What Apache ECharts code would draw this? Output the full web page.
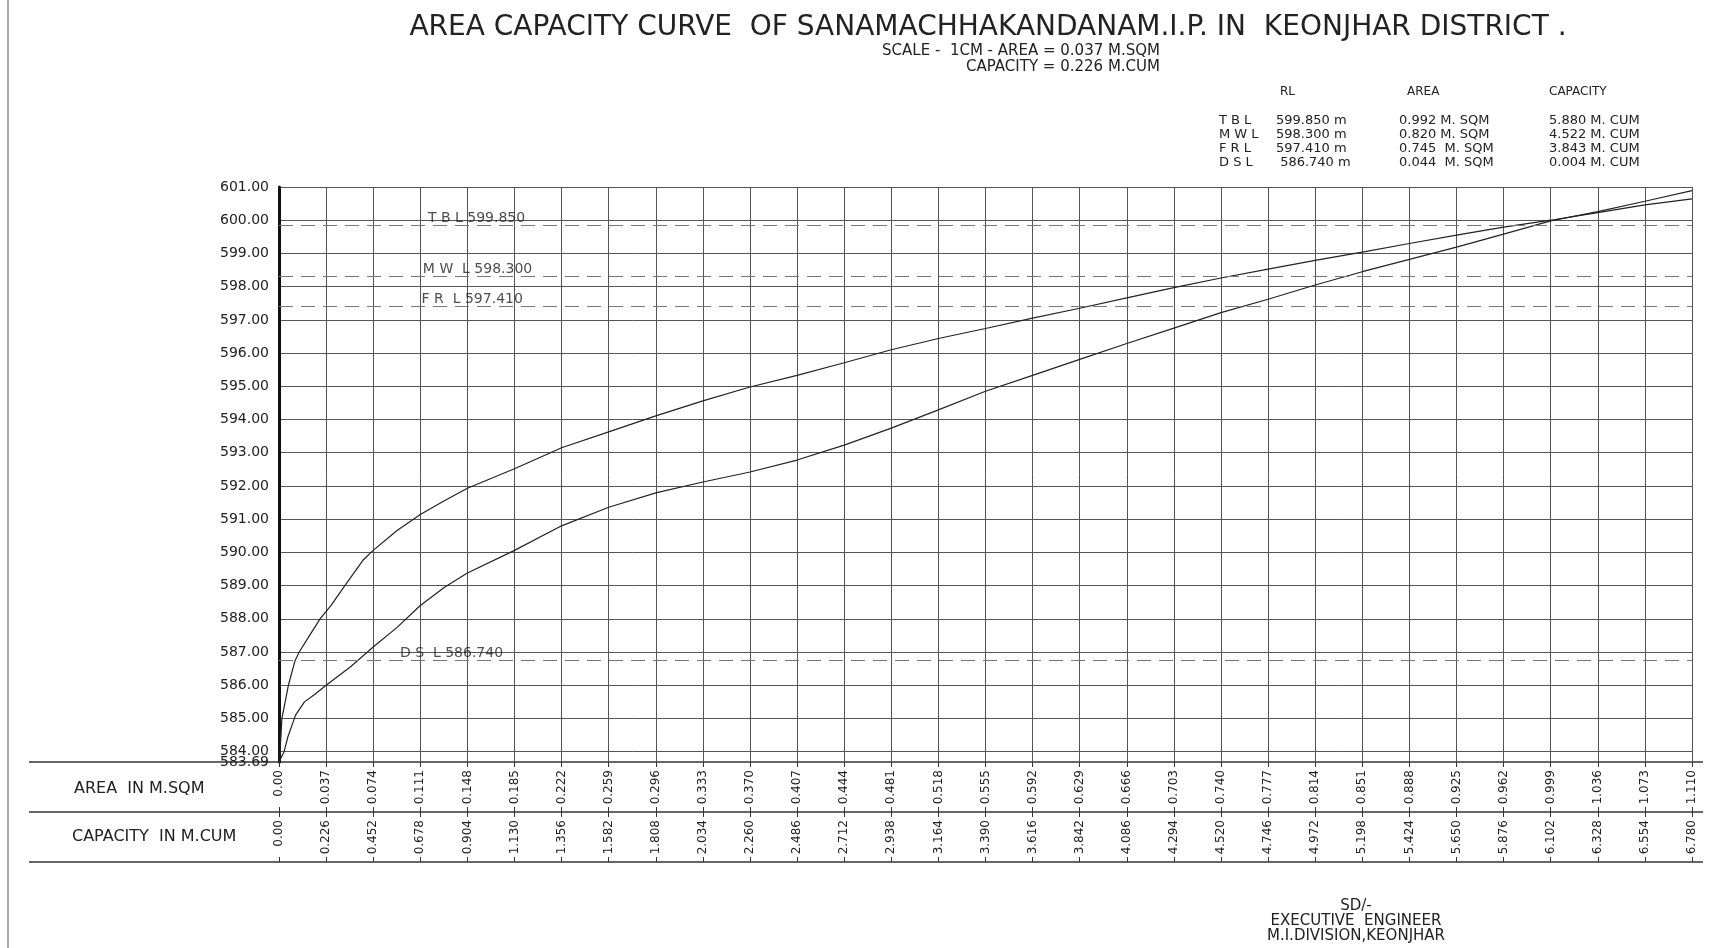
<!DOCTYPE html>
<html>
<head>
<meta charset="utf-8">
<title>Area Capacity Curve</title>
<script src="https://cdn.jsdelivr.net/npm/echarts@6/dist/echarts.min.js"></script>
<style>
  html, body { margin: 0; padding: 0; background: #fff; }
  #main { width: 1713px; height: 948px; }
</style>
</head>
<body>
<div id="main"></div>
<script>
// values
var areaMsqm = [0, 0.004, 0.007, 0.013, 0.020, 0.028, 0.037, 0.056, 0.074, 0.093, 0.111, 0.130, 0.148,
  0.185, 0.222, 0.259, 0.296, 0.333, 0.370, 0.407, 0.444, 0.481, 0.518, 0.555, 0.592, 0.629, 0.666,
  0.703, 0.740, 0.777, 0.814, 0.851, 0.888, 0.925, 0.962, 0.999, 1.036, 1.073, 1.110];
var areaRL = [583.69, 584.00, 584.45, 585.10, 585.50, 585.72, 586.00, 586.55, 587.15, 587.75, 588.40, 588.95, 589.38,
  590.06, 590.80, 591.36, 591.79, 592.12, 592.42, 592.78, 593.23, 593.74, 594.29, 594.85, 595.33, 595.81, 596.29,
  596.75, 597.22, 597.62, 598.05, 598.45, 598.82, 599.19, 599.58, 599.98, 600.26, 600.57, 600.89];

var capMcum = [0, 0.005, 0.014, 0.045, 0.077, 0.097, 0.147, 0.197, 0.249, 0.316, 0.405, 0.452, 0.565, 0.678, 0.791, 0.904,
  1.130, 1.356, 1.582, 1.808, 2.034, 2.260, 2.486, 2.712, 2.938, 3.164, 3.390, 3.616, 3.842, 4.068,
  4.294, 4.520, 4.746, 4.972, 5.198, 5.424, 5.650, 5.876, 6.102, 6.328, 6.554, 6.780];
var capRL = [583.69, 584.00, 585.00, 586.00, 586.74, 587.00, 587.50, 588.00, 588.40, 589.00, 589.78, 590.06, 590.65, 591.14, 591.55, 591.93,
  592.52, 593.15, 593.63, 594.11, 594.56, 594.98, 595.33, 595.71, 596.10, 596.44, 596.74, 597.05, 597.35, 597.66,
  597.97, 598.26, 598.53, 598.79, 599.04, 599.30, 599.55, 599.79, 600.00, 600.23, 600.46, 600.64];

var rlBottom = 583.69, rlTop = 601;
var rlTicks = [584, 585, 586, 587, 588, 589, 590, 591, 592, 593, 594, 595, 596, 597, 598, 599, 600, 601];
var areaStep = 0.037, capStep = 0.226;
var areaTickLabels = ['0.00', '0.037', '0.074', '0.111', '0.148', '0.185', '0.222', '0.259', '0.296', '0.333', '0.370',
  '0.407', '0.444', '0.481', '0.518', '0.555', '0.592', '0.629', '0.666', '0.703', '0.740', '0.777', '0.814',
  '0.851', '0.888', '0.925', '0.962', '0.999', '1.036', '1.073', '1.110'];
var capTickLabels = ['0.00', '0.226', '0.452', '0.678', '0.904', '1.130', '1.356', '1.582', '1.808', '2.034', '2.260',
  '2.486', '2.712', '2.938', '3.164', '3.390', '3.616', '3.842', '4.086', '4.294', '4.520', '4.746', '4.972',
  '5.198', '5.424', '5.650', '5.876', '6.102', '6.328', '6.554', '6.780'];

// reservoir levels
var levelNames = ['T B L 599.850', 'M W  L 598.300', 'F R  L 597.410', 'D S  L 586.740'];
var levelRL = [599.85, 598.30, 597.41, 586.74];
var levelLabelX = [0.117, 0.113, 0.112, 0.095];

var tableHead = ['RL', 'AREA', 'CAPACITY'];
var tableRows = [
  ['T B L', '599.850 m', '0.992 M. SQM', '5.880 M. CUM'],
  ['M W L', '598.300 m', '0.820 M. SQM', '4.522 M. CUM'],
  ['F R L', '597.410 m', '0.745  M. SQM', '3.843 M. CUM'],
  ['D S L', ' 586.740 m', '0.044  M. SQM', '0.004 M. CUM']
];

var FONT = 'DejaVu Sans';
var INK = '#222';

function txt(x, y, s, size, align) {
  return {
    type: 'text', x: x, y: y, silent: true,
    style: { text: s, fontFamily: FONT, fontSize: size, fill: INK, align: align || 'left', verticalAlign: 'middle' }
  };
}
function hline(y, x1, x2) {
  return { type: 'line', silent: true, shape: { x1: x1, y1: y, x2: x2, y2: y }, style: { stroke: '#333', lineWidth: 1.5 } };
}

var graphics = [
  { type: 'line', silent: true, shape: { x1: 8, y1: 0, x2: 8, y2: 948 }, style: { stroke: '#aaa', lineWidth: 2 } },
  txt(988, 28, 'AREA CAPACITY CURVE  OF SANAMACHHAKANDANAM.I.P. IN  KEONJHAR DISTRICT .', 28, 'center'),
  txt(1160, 51, 'SCALE -  1CM - AREA = 0.037 M.SQM', 15, 'right'),
  txt(1160, 67, 'CAPACITY = 0.226 M.CUM', 15, 'right'),
  hline(762, 29, 1703), hline(812, 29, 1703), hline(862, 29, 1703),
  txt(74, 789, 'AREA  IN M.SQM', 16),
  txt(72, 837, 'CAPACITY  IN M.CUM', 16),
  txt(1356, 906, 'SD/-', 15, 'center'),
  txt(1356, 921, 'EXECUTIVE  ENGINEER', 15, 'center'),
  txt(1356, 936, 'M.I.DIVISION,KEONJHAR', 15, 'center')
];
var headX = [1280, 1407, 1549];
tableHead.forEach(function (h, i) { graphics.push(txt(headX[i], 92, h, 12)); });
var colX = [1219, 1276, 1399, 1549];
var rowY = [121, 135, 149, 163];
tableRows.forEach(function (r, j) {
  r.forEach(function (c, i) { graphics.push(txt(colX[i], rowY[j], c, 13)); });
});

var chart = echarts.init(document.getElementById('main'));

function tableAxis(idx, offset, inside, showLabel, labels, step, max) {
  return {
    type: 'value', gridIndex: 0, position: 'bottom', offset: offset,
    min: 0, max: max, interval: step,
    axisLine: { show: false, onZero: false },
    axisTick: { show: true, inside: inside, length: 5, lineStyle: { color: '#333', width: 1 } },
    splitLine: { show: idx === 0, lineStyle: { color: '#555', width: 1 } },
    axisLabel: {
      show: showLabel, rotate: 90, margin: 8, hideOverlap: false,
      showMinLabel: true, showMaxLabel: true,
      fontFamily: FONT, fontSize: 12, color: INK,
      formatter: function (v) { return labels[Math.round(v / step)]; }
    }
  };
}

function rlAxis(values, main) {
  return {
    type: 'value', position: 'left', min: rlBottom, max: rlTop,
    axisLine: { show: main, onZero: false, lineStyle: { color: '#111', width: 3 } },
    axisTick: { show: false, customValues: values },
    splitLine: { show: main, lineStyle: { color: '#555', width: 1 } },
    axisLabel: {
      customValues: values, margin: 10, hideOverlap: false,
      showMinLabel: true, showMaxLabel: true,
      fontFamily: FONT, fontSize: 14, color: INK,
      formatter: function (v) { return v.toFixed(2); }
    }
  };
}

var option = {
  animation: false,
  backgroundColor: '#fff',
  grid: { left: 279, right: 21, top: 187, bottom: 186, outerBoundsMode: 'none' },
  graphic: graphics,
  xAxis: [
    tableAxis(0, 0, false, true, areaTickLabels, areaStep, 1.11),
    tableAxis(1, 50, false, true, capTickLabels, capStep, 6.78),
    tableAxis(2, 50, true, false, areaTickLabels, areaStep, 1.11),
    tableAxis(3, 100, true, false, areaTickLabels, areaStep, 1.11)
  ],
  yAxis: [
    rlAxis(rlTicks, true),
    rlAxis([rlBottom], false)
  ],
  series: [
    {
      name: 'Area', type: 'line', xAxisIndex: 0, symbol: 'none', smooth: false,
      data: areaMsqm.map(function (a, i) { return [a, areaRL[i]]; }),
      lineStyle: { color: INK, width: 1.2 }
    },
    {
      name: 'Capacity', type: 'line', xAxisIndex: 1, symbol: 'none', smooth: false,
      data: capMcum.map(function (c, i) { return [c, capRL[i]]; }),
      lineStyle: { color: INK, width: 1.2 },
      markLine: {
        silent: true, symbol: 'none',
        label: { show: false },
        lineStyle: { color: '#777', type: [14, 8], width: 1.2 },
        data: levelRL.map(function (v) { return { yAxis: v }; })
      }
    },
    {
      name: 'Levels', type: 'scatter', xAxisIndex: 0, symbolSize: 0, silent: true,
      data: levelRL.map(function (v, i) { return [levelLabelX[i], v, levelNames[i]]; }),
      label: {
        show: true, position: 'right', distance: 0, offset: [0, -7],
        fontFamily: FONT, fontSize: 14, color: INK,
        formatter: function (p) { return p.data[2]; }
      }
    }
  ]
};
chart.setOption(option);
</script>
</body>
</html>
